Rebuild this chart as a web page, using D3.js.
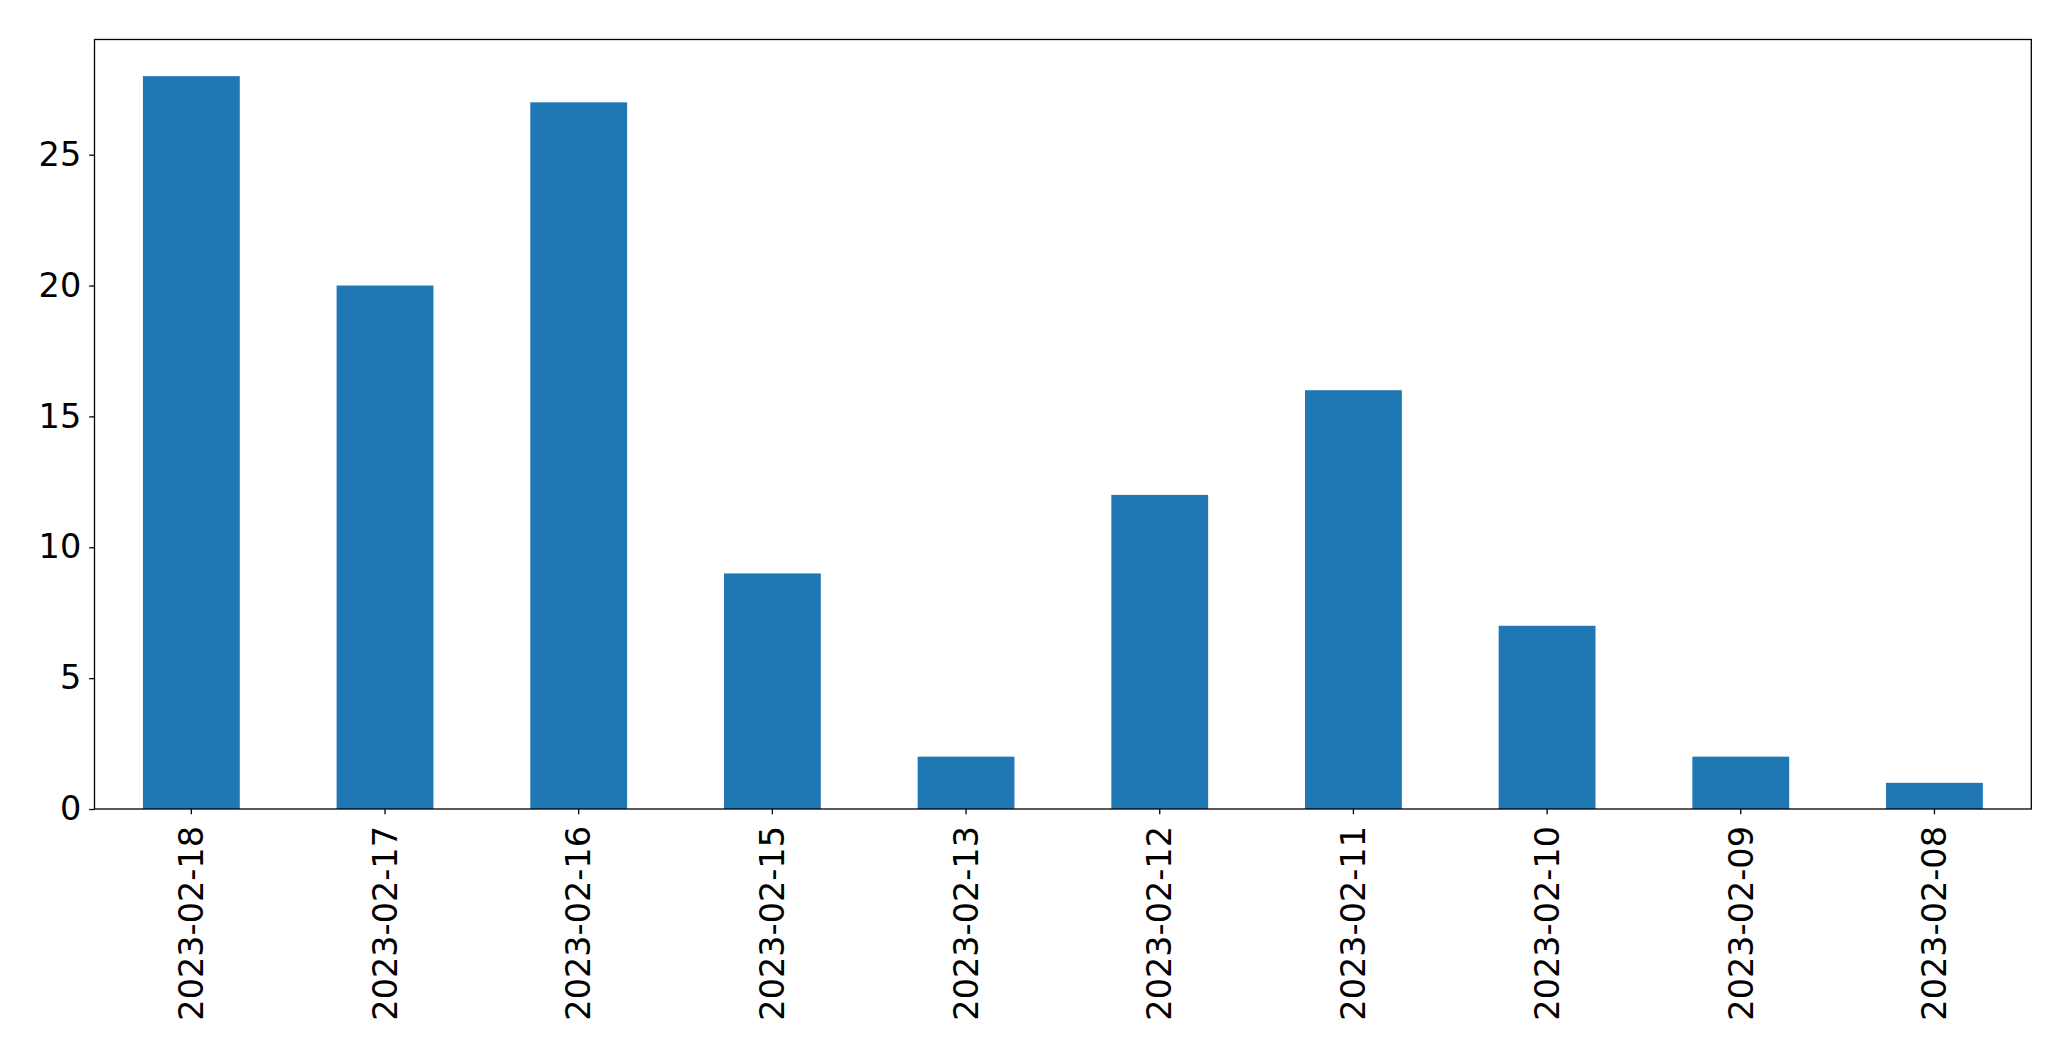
<!DOCTYPE html>
<html>
<head>
<meta charset="utf-8">
<script src="https://cdn.jsdelivr.net/npm/d3@7"></script>
<style>
html,body{margin:0;padding:0;background:#fff;}
svg{display:block;}
</style>
</head>
<body>
<script>
const categories = ["2023-02-18","2023-02-17","2023-02-16","2023-02-15","2023-02-13","2023-02-12","2023-02-11","2023-02-10","2023-02-09","2023-02-08"];
const values = [28,20,27,9,2,12,16,7,2,1];
const yTicks = [0,5,10,15,20,25];

const W = 2071, H = 1061;
const m = {left:94.5, right:2071-2031.3, top:39.5, bottom:1061-809};
const svg = d3.select("body").append("svg").attr("width",W).attr("height",H);
const iw = W - m.left - m.right, ih = H - m.top - m.bottom;
const g = svg.append("g").attr("transform",`translate(${m.left},${m.top})`);

const x = d3.scaleBand().domain(categories).range([0,iw]).paddingInner(0.5).paddingOuter(0.25);
const y = d3.scaleLinear().domain([0, d3.max(values)*1.05]).range([ih,0]);

g.selectAll("rect.bar").data(values).join("rect")
  .attr("class","bar")
  .attr("x",(d,i)=>x(categories[i]))
  .attr("y",d=>y(d))
  .attr("width",x.bandwidth())
  .attr("height",d=>y(0)-y(d))
  .attr("fill","#1f77b4");

const font = "'DejaVu Sans', sans-serif";
const yAxis = g.append("g").call(d3.axisLeft(y).tickValues(yTicks).tickSize(5.3).tickPadding(8).tickFormat(d3.format("d")));
const xAxis = g.append("g").attr("transform",`translate(0,${ih})`).call(d3.axisBottom(x).tickSize(5.3).tickPadding(10));
[xAxis,yAxis].forEach(a=>{
  a.select(".domain").remove();
  a.selectAll(".tick line").attr("stroke","#000").attr("stroke-width",1.3);
  a.selectAll("text").attr("fill","#000").style("font-family",font).style("font-size","33.5px");
});
xAxis.selectAll(".tick text")
  .attr("transform","rotate(-90)")
  .attr("text-anchor","end")
  .attr("x",-17)
  .attr("y",0)
  .attr("dy","0.35em");

g.append("rect").attr("x",0).attr("y",0).attr("width",iw).attr("height",ih)
  .attr("fill","none").attr("stroke","#000").attr("stroke-width",1.3);
</script>
</body>
</html>
